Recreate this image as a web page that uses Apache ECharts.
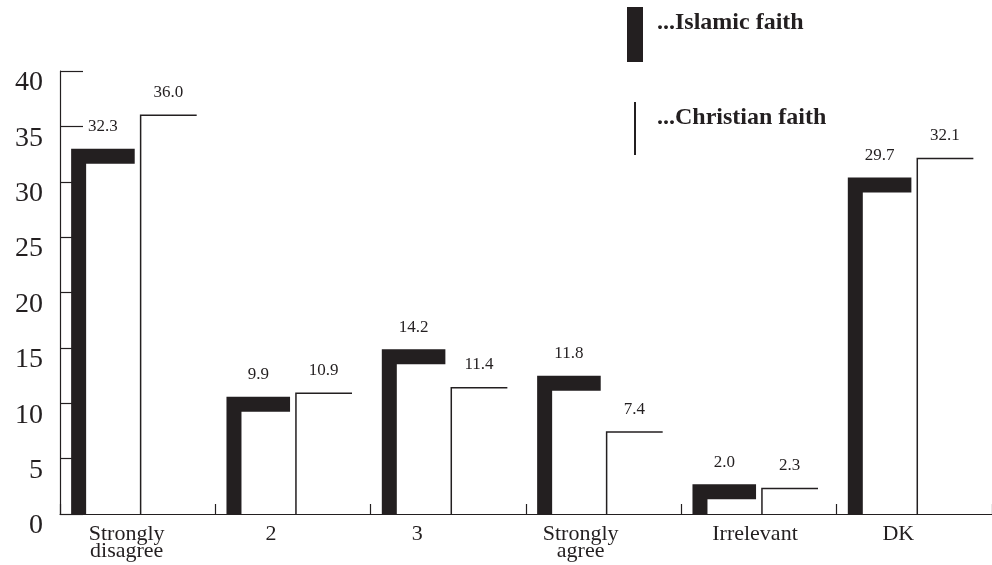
<!DOCTYPE html>
<html>
<head>
<meta charset="utf-8">
<script src="https://cdn.jsdelivr.net/npm/echarts@6/dist/echarts.min.js"></script>
<style>
  html, body { margin: 0; padding: 0; background: #ffffff; }
  #chart { width: 992px; height: 565px; }
</style>
</head>
<body>
<div id="chart"></div>
<script>
// ---- data ----
const categories = ['Strongly\ndisagree', '2', '3', 'Strongly\nagree', 'Irrelevant', 'DK'];
const islamic = [32.3, 9.9, 14.2, 11.8, 2.0, 29.7];
const christian = [36.0, 10.9, 11.4, 7.4, 2.3, 32.1];
const seriesNames = ['...Islamic faith', '...Christian faith'];

// ---- styling ----
const INK = '#231f20';
const SERIF = '"Liberation Serif", "Times New Roman", serif';
const labelPadRight = [22, 44, 62, 46, 8, 32];

function makeRender(isIslamic) {
  return function (params, api) {
    const idx = api.value(0);
    const v = api.value(1);
    const base = api.coord([idx, 0]);
    const top = api.coord([idx, v]);
    const bw = api.size([1, 0])[0];
    const c = base[0];
    let xv, xr, lw;
    if (isIslamic) {
      lw = 15;
      xv = c - bw * 0.380;
      xr = c - bw * 0.019;
    } else {
      lw = 1.5;
      xv = c + bw * 0.019;
      xr = c + bw * 0.380;
    }
    const topEdge = top[1] - lw / 2;
    return {
      type: 'group',
      children: [
        {
          type: 'polyline',
          shape: { points: [[xv, base[1]], [xv, top[1]], [xr, top[1]]] },
          style: { stroke: INK, lineWidth: lw, fill: null, lineJoin: 'miter', lineCap: 'butt' }
        },
        {
          type: 'text',
          style: {
            text: v.toFixed(1),
            x: (xv - lw / 2 + xr) / 2,
            y: topEdge - 22,
            align: 'center',
            verticalAlign: 'middle',
            fontSize: 17,
            fontFamily: SERIF,
            fill: INK
          }
        }
      ]
    };
  };
}

const legendText = { fontFamily: SERIF, fontWeight: 'bold', fontSize: 24, color: INK };

const chart = echarts.init(document.getElementById('chart'), null, { renderer: 'canvas' });
chart.setOption({
  backgroundColor: '#ffffff',
  animation: false,
  grid: { left: 60, top: 71, width: 939, height: 443, containLabel: false },
  legend: [
    {
      data: [seriesNames[0]],
      left: 627, top: 7, padding: 0,
      icon: 'rect', itemWidth: 16, itemHeight: 55,
      selectedMode: false,
      formatter: name => name + '\n ',
      textStyle: Object.assign({}, legendText, { lineHeight: 23, padding: [0, 0, 0, 9] })
    },
    {
      data: [seriesNames[1]],
      left: 634, top: 102, padding: 0,
      icon: 'rect', itemWidth: 2, itemHeight: 53,
      selectedMode: false,
      formatter: name => name + '\n ',
      textStyle: Object.assign({}, legendText, { lineHeight: 22, padding: [0, 0, 0, 16] })
    }
  ],
  xAxis: {
    type: 'category',
    data: categories.map((c, i) => ({ value: c, textStyle: { padding: [0, labelPadRight[i], 0, 0] } })),
    boundaryGap: true,
    axisLine: { show: true, lineStyle: { color: INK, width: 1.2 } },
    axisTick: { show: true, inside: true, length: 10, interval: 0, alignWithLabel: false, lineStyle: { color: INK, width: 1.2 } },
    axisLabel: { interval: 0, margin: 12, fontFamily: SERIF, fontSize: 22, lineHeight: 17, color: INK },
    splitLine: { show: false }
  },
  yAxis: {
    type: 'value',
    min: 0, max: 40, interval: 5,
    axisLine: { show: true, lineStyle: { color: INK, width: 1.2 } },
    axisTick: { show: true, inside: true, length: 23, lineStyle: { color: INK, width: 1.2 } },
    axisLabel: { margin: 17, fontFamily: SERIF, fontSize: 28, color: INK, verticalAlign: 'top', lineHeight: 24 },
    splitLine: { show: false }
  },
  series: [
    {
      name: seriesNames[0],
      type: 'custom',
      renderItem: makeRender(true),
      itemStyle: { color: INK },
      encode: { x: 0, y: 1 },
      clip: false,
      data: islamic.map((v, i) => [i, v])
    },
    {
      name: seriesNames[1],
      type: 'custom',
      renderItem: makeRender(false),
      itemStyle: { color: INK },
      encode: { x: 0, y: 1 },
      clip: false,
      data: christian.map((v, i) => [i, v])
    }
  ]
});
</script>
</body>
</html>
